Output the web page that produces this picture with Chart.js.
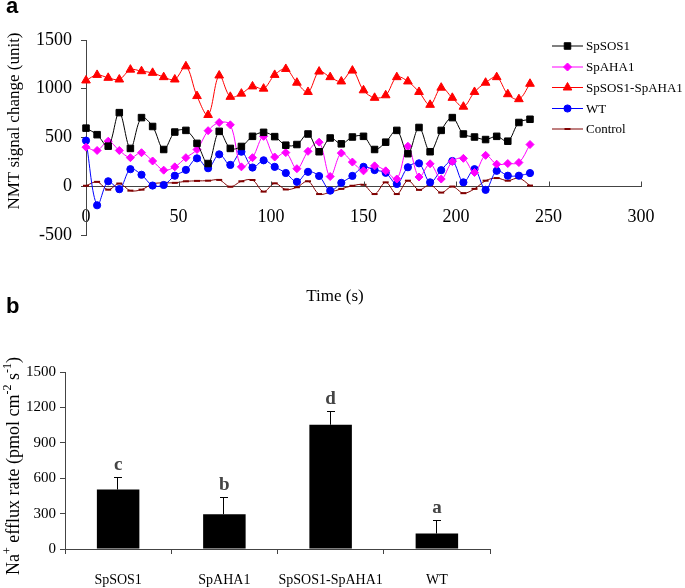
<!DOCTYPE html>
<html>
<head>
<meta charset="utf-8">
<script src="https://cdn.jsdelivr.net/npm/chart.js@4.4.0/dist/chart.umd.min.js"></script>
<style>
    body { margin: 0; background: #fff; }
    #wrap { position: relative; width: 685px; height: 588px; overflow: hidden; }
    .panel { position: absolute; left: 0; width: 685px; }
    .tag { position: absolute; left: 6px; font: bold 22px 'Liberation Sans', Arial, sans-serif; line-height: 1; }
</style>
</head>
<body>
<div id="wrap">
    <div class="panel" style="top:0;height:310px"><canvas id="chartA" width="685" height="310"></canvas></div>
    <div class="panel" style="top:300px;height:288px"><canvas id="chartB" width="685" height="288"></canvas></div>
    <div class="tag" style="top:-5px">a</div>
    <div class="tag" style="top:295px">b</div>
</div>
<script>
// panel a: NMT signal over time
const timeSec = [0, 6, 12, 18, 24, 30, 36, 42, 48, 54, 60, 66, 72, 78, 84, 90, 96, 102, 108, 114, 120,
    126, 132, 138, 144, 150, 156, 162, 168, 174, 180, 186, 192, 198, 204, 210, 216, 222, 228, 234, 240];
const sos1 = [596, 529, 411, 755, 388, 704, 613, 377, 556, 573, 440, 233, 563, 388, 408, 512, 553, 509, 421, 428, 536,
    354, 495, 435, 505, 512, 377, 452, 573, 334, 603, 354, 573, 704, 536, 505, 479, 512, 462, 654, 687];
const aha1 = [401, 367, 462, 367, 293, 344, 259, 165, 199, 293, 377, 570, 654, 630, 199, 293, 512, 300, 345, 180, 358,
    452, 100, 340, 248, 158, 209, 158, 74, 410, 95, 230, 74, 253, 286, 141, 317, 226, 233, 243, 428];
const sos1Aha1 = [1085, 1142, 1112, 1095, 1196, 1180, 1163, 1119, 1095, 1230, 925, 731, 1136, 917, 950, 1024, 1001, 1142, 1203, 1062, 967,
    1176, 1119, 1075, 1186, 984, 907, 933, 1119, 1075, 967, 835, 1011, 907, 816, 967, 1062, 1119, 944, 893, 1051];
const wt = [468, -195, 51, -30, 175, 118, 7, 13, 108, 168, 286, 185, 327, 219, 354, 192, 266, 199, 136, 45, 148,
    105, -45, 35, 106, 199, 166, 138, 24, 195, 235, 40, 165, 259, 40, 175, -37, 158, 108, 108, 135];
const control = [5, 45, -35, 28, -45, -35, 24, 35, 35, 51, 55, 57, 65, -5, 51, 64, -55, 30, -33, -10, 51,
    -80, -60, -27, 5, 15, -80, 40, -80, 57, -37, 15, -65, -3, -71, -27, 57, 84, 57, 84, 7];
const seriesNames = ['SpSOS1', 'SpAHA1', 'SpSOS1-SpAHA1', 'WT', 'Control'];
const xTicksA = [0, 50, 100, 150, 200, 250, 300];
const yTicksA = [-500, 0, 500, 1000, 1500];

// panel b: Na+ efflux
const categories = ['SpSOS1', 'SpAHA1', 'SpSOS1-SpAHA1', 'WT'];
const effluxMean = [504, 295, 1053, 131];
const effluxErr = [107, 146, 119, 113];
const sigLetters = ['c', 'b', 'd', 'a'];
const yTicksB = [0, 300, 600, 900, 1200, 1500];

const SERIF = "'Liberation Serif', 'Times New Roman', serif";
const AXIS = '#444';

const pts = vals => timeSec.map((t, i) => ({ x: t, y: vals[i] }));
const plain = v => String(v);

const styles = [
    { color: '#000000', pointStyle: 'rect', radius: 4.6, bw: 1 },
    { color: '#FF00FF', pointStyle: 'rectRot', radius: 4, bw: 1 },
    { color: '#FF0000', pointStyle: 'triangle', radius: 5, bw: 1 },
    { color: '#0000FF', pointStyle: 'circle', radius: 3.6, bw: 1 },
    { color: '#800000', pointStyle: 'line', radius: 3, bw: 2 }
];
const seriesVals = [sos1, aha1, sos1Aha1, wt, control];

const datasetsA = seriesVals.map((vals, i) => ({
    label: seriesNames[i],
    data: pts(vals),
    borderColor: styles[i].color,
    backgroundColor: styles[i].color,
    borderWidth: 1,
    pointStyle: styles[i].pointStyle,
    pointRadius: styles[i].radius,
    pointBorderWidth: styles[i].bw,
    pointBackgroundColor: styles[i].color,
    pointBorderColor: styles[i].color,
    tension: 0.35,
    clip: false
}));

// titles, upward x ticks and in-plot legend for panel a
const panelAExtras = {
    id: 'panelAExtras',
    afterDraw(chart) {
        const { ctx, scales: { x, y } } = chart;
        ctx.save();
        ctx.strokeStyle = AXIS;
        ctx.lineWidth = 1;
        const y0 = Math.round(y.getPixelForValue(0)) + 0.5;
        xTicksA.slice(1).forEach(v => {
            const px = Math.round(x.getPixelForValue(v)) + 0.5;
            ctx.beginPath();
            ctx.moveTo(px, y0);
            ctx.lineTo(px, y0 - 5);
            ctx.stroke();
        });

        ctx.fillStyle = '#000';
        ctx.font = `17px ${SERIF}`;
        ctx.textAlign = 'center';
        ctx.textBaseline = 'middle';
        ctx.fillText('Time (s)', 335, 297);

        ctx.save();
        ctx.translate(15, 121);
        ctx.rotate(-Math.PI / 2);
        ctx.fillText('NMT signal change (unit)', 0, 0);
        ctx.restore();

        // legend
        const rowsY = [46, 67, 87.5, 108.5, 129];
        ctx.font = `13px ${SERIF}`;
        ctx.textAlign = 'left';
        chart.data.datasets.forEach((ds, i) => {
            const ly = rowsY[i];
            ctx.strokeStyle = ds.borderColor;
            ctx.fillStyle = ds.borderColor;
            ctx.lineWidth = 1;
            ctx.beginPath();
            ctx.moveTo(552, ly);
            ctx.lineTo(583, ly);
            ctx.stroke();
            ctx.lineWidth = ds.pointBorderWidth;
            Chart.helpers.drawPoint(ctx, {
                pointStyle: ds.pointStyle, radius: ds.pointRadius, rotation: 0, borderWidth: ds.pointBorderWidth
            }, 567.5, ly);
            ctx.fillStyle = '#000';
            ctx.fillText(ds.label, 586, ly + 1);
        });
        ctx.restore();
    }
};

new Chart(document.getElementById('chartA'), {
    type: 'line',
    data: { datasets: datasetsA },
    options: {
        responsive: false,
        animation: false,
        layout: { padding: { left: 0, top: 40, right: 44, bottom: 75 } },
        plugins: { legend: { display: false }, tooltip: { enabled: false } },
        scales: {
            x: {
                type: 'linear',
                position: { y: 0 },
                min: 0,
                max: 300,
                afterBuildTicks: s => { s.ticks = xTicksA.map(v => ({ value: v })); },
                grid: { display: true, drawOnChartArea: false, drawTicks: false },
                border: { display: true, color: AXIS, width: 1 },
                ticks: { padding: 20, color: '#000', maxRotation: 0, callback: plain, font: { family: SERIF, size: 18 } }
            },
            y: {
                min: -500,
                max: 1500,
                afterBuildTicks: s => { s.ticks = yTicksA.map(v => ({ value: v })); },
                afterFit: s => { s.width = 86; },
                grid: { display: true, drawOnChartArea: false, tickLength: 5, color: AXIS },
                border: { display: true, color: AXIS, width: 1 },
                ticks: { padding: 9, color: '#000', callback: plain, font: { family: SERIF, size: 18 } }
            }
        }
    },
    plugins: [panelAExtras]
});

// error bars, letters and y title for panel b
const panelBExtras = {
    id: 'panelBExtras',
    afterDatasetsDraw(chart) {
        const { ctx, scales: { y } } = chart;
        const meta = chart.getDatasetMeta(0);
        ctx.save();
        ctx.strokeStyle = '#000';
        ctx.lineWidth = 1;
        meta.data.forEach((bar, i) => {
            const top = Math.round(y.getPixelForValue(effluxMean[i] + effluxErr[i])) + 0.5;
            const bx = Math.round(bar.x) - 0.5;
            ctx.beginPath();
            ctx.moveTo(bx, bar.y);
            ctx.lineTo(bx, top);
            ctx.moveTo(bx - 3.5, top);
            ctx.lineTo(bx + 4.5, top);
            ctx.stroke();
            ctx.fillStyle = '#444';
            ctx.font = `bold 19px ${SERIF}`;
            ctx.textAlign = 'center';
            ctx.textBaseline = 'alphabetic';
            ctx.fillText(sigLetters[i], bar.x, top - 8);
        });

        // rotated title with superscripts
        const parts = [
            ['Na', false], ['+', true], [' efflux rate (pmol cm', false], ['-2', true],
            [' s', false], ['-1', true], [')', false]
        ];
        const big = `18px ${SERIF}`, small = `12px ${SERIF}`;
        let total = 0;
        parts.forEach(([t, sup]) => { ctx.font = sup ? small : big; total += ctx.measureText(t).width; });
        ctx.translate(14, 166);
        ctx.rotate(-Math.PI / 2);
        ctx.fillStyle = '#000';
        ctx.textAlign = 'left';
        ctx.textBaseline = 'middle';
        let cx = -total / 2;
        parts.forEach(([t, sup]) => {
            ctx.font = sup ? small : big;
            ctx.fillText(t, cx, sup ? -6 : 0);
            cx += ctx.measureText(t).width;
        });
        ctx.restore();
    }
};

new Chart(document.getElementById('chartB'), {
    type: 'bar',
    data: {
        labels: categories,
        datasets: [{
            data: effluxMean,
            backgroundColor: '#000',
            borderColor: '#000',
            borderWidth: 0,
            barPercentage: 0.4,
            categoryPercentage: 1
        }]
    },
    options: {
        responsive: false,
        animation: false,
        layout: { padding: { left: 0, top: 72, right: 195, bottom: 0 } },
        plugins: { legend: { display: false }, tooltip: { enabled: false } },
        scales: {
            x: {
                offset: true,
                afterFit: s => { s.height = 39; },
                grid: { display: true, drawOnChartArea: false, offset: true, tickLength: 5, color: AXIS },
                border: { display: true, color: AXIS, width: 1 },
                ticks: { padding: 18, autoSkip: false, color: '#000', maxRotation: 0, font: { family: SERIF, size: 14 } }
            },
            y: {
                min: 0,
                max: 1500,
                afterBuildTicks: s => { s.ticks = yTicksB.map(v => ({ value: v })); },
                afterFit: s => { s.width = 65; },
                grid: { display: true, drawOnChartArea: false, tickLength: 5, color: AXIS },
                border: { display: true, color: AXIS, width: 1 },
                ticks: { padding: 4, color: '#000', callback: plain, font: { family: SERIF, size: 15 } }
            }
        }
    },
    plugins: [panelBExtras]
});
</script>
</body>
</html>
